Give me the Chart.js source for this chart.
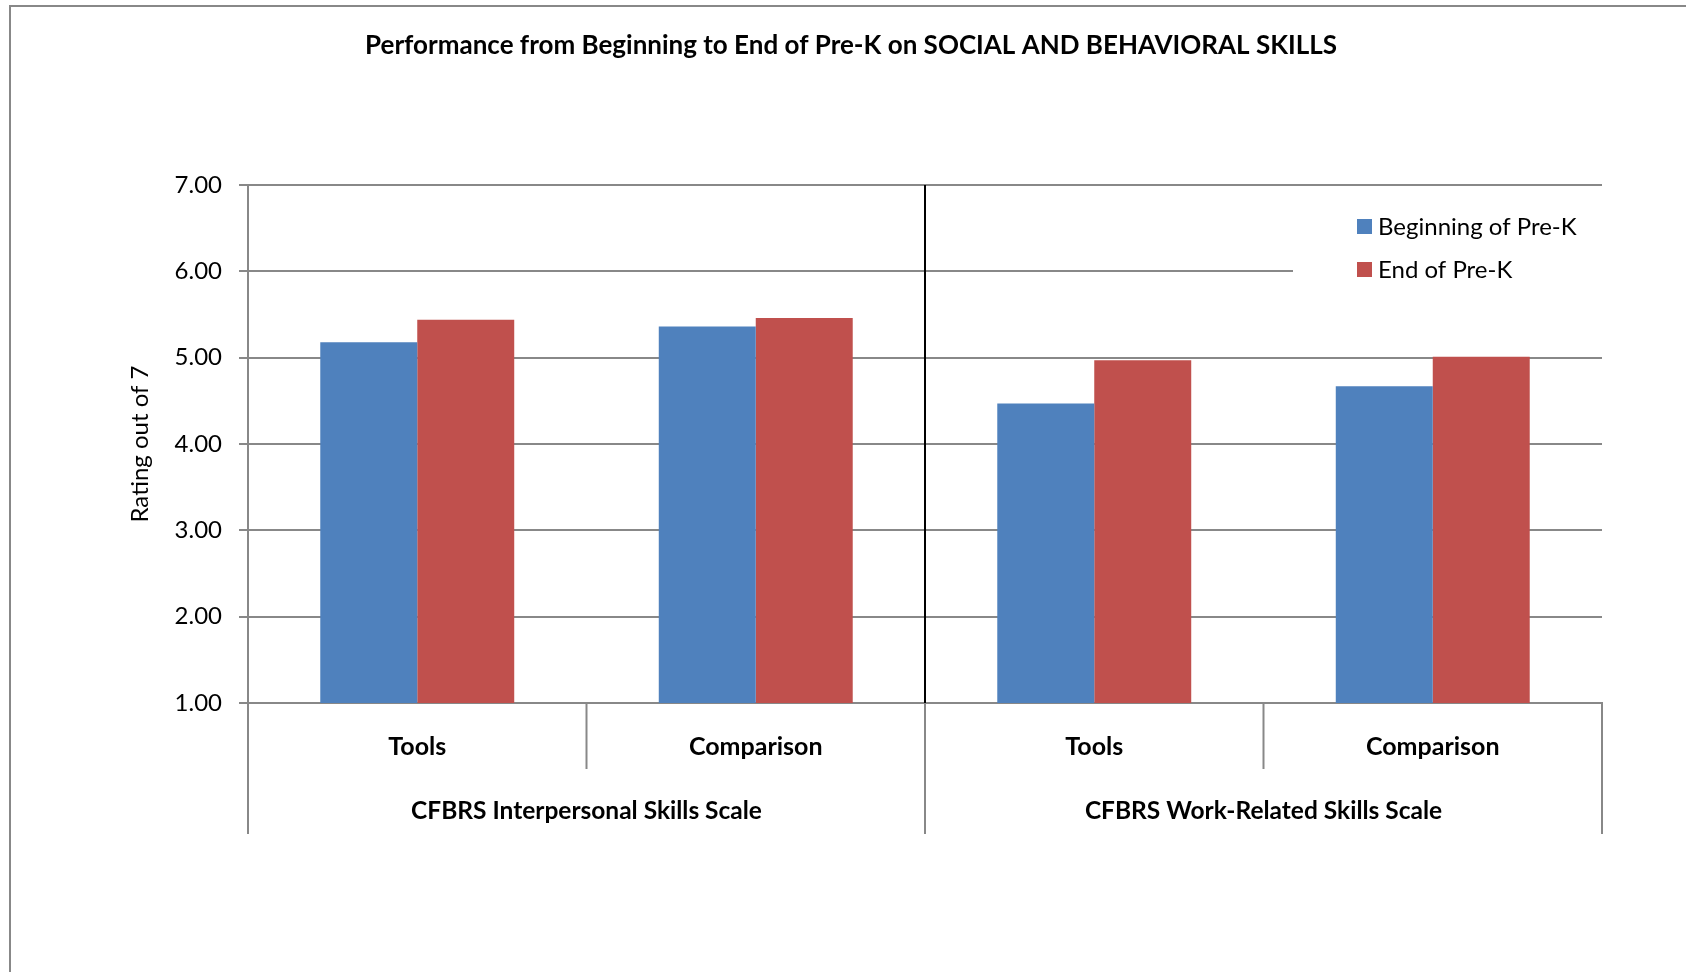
<!DOCTYPE html>
<html>
<head>
<meta charset="utf-8">
<script src="https://cdn.jsdelivr.net/npm/chart.js@4.4.0/dist/chart.umd.min.js"></script>
<style>
  html, body { margin: 0; padding: 0; background: #fff; }
  #wrap { width: 1686px; height: 972px; position: relative; }
</style>
</head>
<body>
<div id="wrap"><canvas id="c" width="1686" height="972"></canvas></div>
<script>
const chartTitle = 'Performance from Beginning to End of Pre-K on SOCIAL AND BEHAVIORAL SKILLS';
const categories = ['Tools', 'Comparison', 'Tools', 'Comparison'];
const groups = ['CFBRS Interpersonal Skills Scale', 'CFBRS Work-Related Skills Scale'];
const seriesNames = ['Beginning of Pre-K', 'End of Pre-K'];
const beginningValues = [5.18, 5.36, 4.47, 4.67];
const endValues = [5.44, 5.46, 4.97, 5.01];
const yAxisTitle = 'Rating out of 7';

const FONT = 'Lato, "Open Sans", sans-serif';
const GRID = '#888888';

const extras = {
  id: 'extras',
  beforeDraw(chart) {
    const ctx = chart.ctx;
    ctx.save();
    ctx.fillStyle = '#ffffff';
    ctx.fillRect(0, 0, chart.width, chart.height);
    ctx.strokeStyle = GRID;
    ctx.lineWidth = 2;
    ctx.beginPath();
    ctx.moveTo(10, chart.height);
    ctx.lineTo(10, 6);
    ctx.lineTo(chart.width, 6);
    ctx.stroke();
    ctx.restore();
  },
  afterDraw(chart) {
    const ctx = chart.ctx;
    const x = chart.scales.x;
    const area = chart.chartArea;
    const n = categories.length;
    const step = (x.getPixelForValue(1) - x.getPixelForValue(0));
    const boundary = i => x.getPixelForValue(0) - step / 2 + i * step;
    ctx.save();
    // title
    ctx.fillStyle = '#000';
    ctx.font = 'bold 26px ' + FONT;
    ctx.textAlign = 'center';
    ctx.textBaseline = 'middle';
    ctx.fillText(chartTitle, 851, 46);

    // separators below axis
    ctx.strokeStyle = GRID;
    ctx.lineWidth = 2;
    for (let i = 0; i <= n; i++) {
      const px = boundary(i);
      const isGroupEdge = (i % 2 === 0);
      ctx.beginPath();
      ctx.moveTo(px, area.bottom);
      ctx.lineTo(px, isGroupEdge ? area.bottom + 131 : area.bottom + 66);
      ctx.stroke();
    }
    // black divider between groups
    ctx.strokeStyle = '#000';
    ctx.lineWidth = 2;
    ctx.beginPath();
    ctx.moveTo(boundary(2), area.top);
    ctx.lineTo(boundary(2), area.bottom);
    ctx.stroke();

    // group labels
    ctx.fillStyle = '#000';
    ctx.font = 'bold 24.5px ' + FONT;
    ctx.textAlign = 'center';
    ctx.textBaseline = 'middle';
    groups.forEach((g, gi) => {
      const cx = (boundary(gi * 2) + boundary(gi * 2 + 2)) / 2;
      ctx.fillText(g, cx, 811);
    });

    // legend with white background
    ctx.fillStyle = '#ffffff';
    ctx.fillRect(1293, 196, area.right - 1293, 100);
    const rows = [226.5, 269.5];
    chart.data.datasets.forEach((ds, i) => {
      ctx.fillStyle = ds.backgroundColor;
      ctx.fillRect(1357, rows[i] - 7.5, 15, 15);
      ctx.fillStyle = '#000';
      ctx.font = '24px ' + FONT;
      ctx.textAlign = 'left';
      ctx.textBaseline = 'middle';
      ctx.fillText(ds.label, 1378, rows[i] + 1);
    });
    ctx.restore();
  }
};

new Chart(document.getElementById('c'), {
  type: 'bar',
  data: {
    labels: categories,
    datasets: [
      { label: seriesNames[0], data: beginningValues, backgroundColor: '#4F81BD', borderWidth: 0 },
      { label: seriesNames[1], data: endValues, backgroundColor: '#C0504D', borderWidth: 0 }
    ]
  },
  options: {
    responsive: false,
    animation: false,
    devicePixelRatio: 1,
    categoryPercentage: 0.573,
    barPercentage: 1.0,
    layout: { padding: { left: 0, top: 185, right: 84, bottom: 0 } },
    plugins: {
      legend: { display: false },
      title: { display: false },
      tooltip: { enabled: false }
    },
    scales: {
      x: {
        type: 'category',
        grid: { display: false, drawTicks: false },
        border: { display: true, color: GRID, width: 2 },
        ticks: { color: '#000', font: { family: FONT, size: 25, weight: 'bold' }, padding: 29, maxRotation: 0, autoSkip: false },
        afterFit(scale) { scale.height = 972 - 703; }
      },
      y: {
        min: 1, max: 7,
        ticks: { stepSize: 1, color: '#000', font: { family: FONT, size: 24 }, padding: 17,
                 callback: v => Number(v).toFixed(2) },
        grid: { color: GRID, lineWidth: 2, tickLength: 9 },
        border: { display: true, color: GRID, width: 2 },
        title: { display: true, text: yAxisTitle, color: '#000', font: { family: FONT, size: 24 }, padding: { top: 126, bottom: 0 } },
        afterFit(scale) { scale.width = 248; }
      }
    }
  },
  plugins: [extras]
});
</script>
</body>
</html>
